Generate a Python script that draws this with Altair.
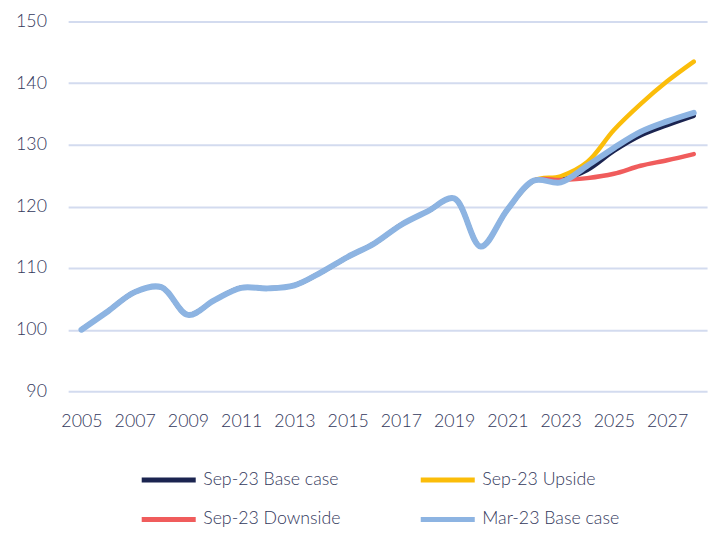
import altair as alt
import pandas as pd

years = list(range(2005, 2029))
sep_base = [100, 103, 106.1, 106.9, 102.4, 104.8, 106.8, 106.7, 107.2, 109.3, 111.8, 114.0, 117.0, 119.2, 121.3, 113.5, 119.5, 124.2, 124.3, 125.9, 129.0, 131.5, 133.2, 134.7]
sep_up = [100, 103, 106.1, 106.9, 102.4, 104.8, 106.8, 106.7, 107.2, 109.3, 111.8, 114.0, 117.0, 119.2, 121.3, 113.5, 119.5, 124.2, 124.9, 127.2, 132.4, 136.6, 140.3, 143.5]
sep_down = [100, 103, 106.1, 106.9, 102.4, 104.8, 106.8, 106.7, 107.2, 109.3, 111.8, 114.0, 117.0, 119.2, 121.3, 113.5, 119.5, 124.2, 124.3, 124.6, 125.3, 126.6, 127.5, 128.5]
mar_base = [100, 103, 106.1, 106.9, 102.4, 104.8, 106.8, 106.7, 107.2, 109.3, 111.8, 114.0, 117.0, 119.2, 121.3, 113.5, 119.5, 124.2, 123.9, 126.6, 129.5, 132.1, 133.8, 135.2]

series_names = ["Sep-23 Base case", "Sep-23 Upside", "Sep-23 Downside", "Mar-23 Base case"]
series_vals = [sep_base, sep_up, sep_down, mar_base]
colors = ["#1b2450", "#fbbd0a", "#f05c5c", "#8db4e2"]
widths = [4.5, 4.5, 4.5, 6]
tick_years = list(range(2005, 2028, 2))
legend_order = ["Sep-23 Base case", "Sep-23 Downside", "Sep-23 Upside", "Mar-23 Base case"]

rows = []
for name, vals in zip(series_names, series_vals):
    for y, v in zip(years, vals):
        rows.append({"year": y, "value": v, "series": name})
df = pd.DataFrame(rows)

text_color = "#33385c"
font = "Lato"

color_scale = alt.Scale(domain=legend_order, range=[colors[series_names.index(n)] for n in legend_order])

layers = []
for i, name in enumerate(series_names):
    layer = alt.Chart(df).transform_filter(alt.datum.series == name).mark_line(
        interpolate="catmull-rom", strokeCap="round", strokeWidth=widths[i]
    ).encode(
        x=alt.X("year:Q", scale=alt.Scale(domain=[2004.5, 2028.5], nice=False, zero=False),
                axis=alt.Axis(values=tick_years, format="d", title=None, grid=False, domain=False,
                              ticks=False, labelPadding=22, labelFontSize=18, labelColor=text_color,
                              labelFont=font, labelFontWeight=300, labelFlush=False)),
        y=alt.Y("value:Q", scale=alt.Scale(domain=[90, 150], nice=False, zero=False),
                axis=alt.Axis(values=[90, 100, 110, 120, 130, 140, 150], title=None, domain=False,
                              ticks=False, labelPadding=22, labelFontSize=18, labelColor=text_color,
                              labelFont=font, labelFontWeight=300, gridColor="#d3dbef", gridWidth=2)),
        color=alt.Color("series:N", scale=color_scale,
                        legend=alt.Legend(title=None, orient="none", legendX=72, legendY=435,
                                          columns=2, columnPadding=70, rowPadding=-10,
                                          symbolType="stroke", symbolSize=3000, symbolStrokeWidth=5,
                                          labelFontSize=18, labelColor=text_color, labelFont=font,
                                          labelFontWeight=300, labelOffset=5, labelLimit=300)),
    )
    layers.append(layer)

chart = alt.layer(*layers).properties(
    width=648, height=375, padding={"left": 7, "top": 1, "right": 5, "bottom": 5}
).configure_view(stroke=None)

chart.save("out.html", embed_options={"renderer": "svg", "actions": False})
